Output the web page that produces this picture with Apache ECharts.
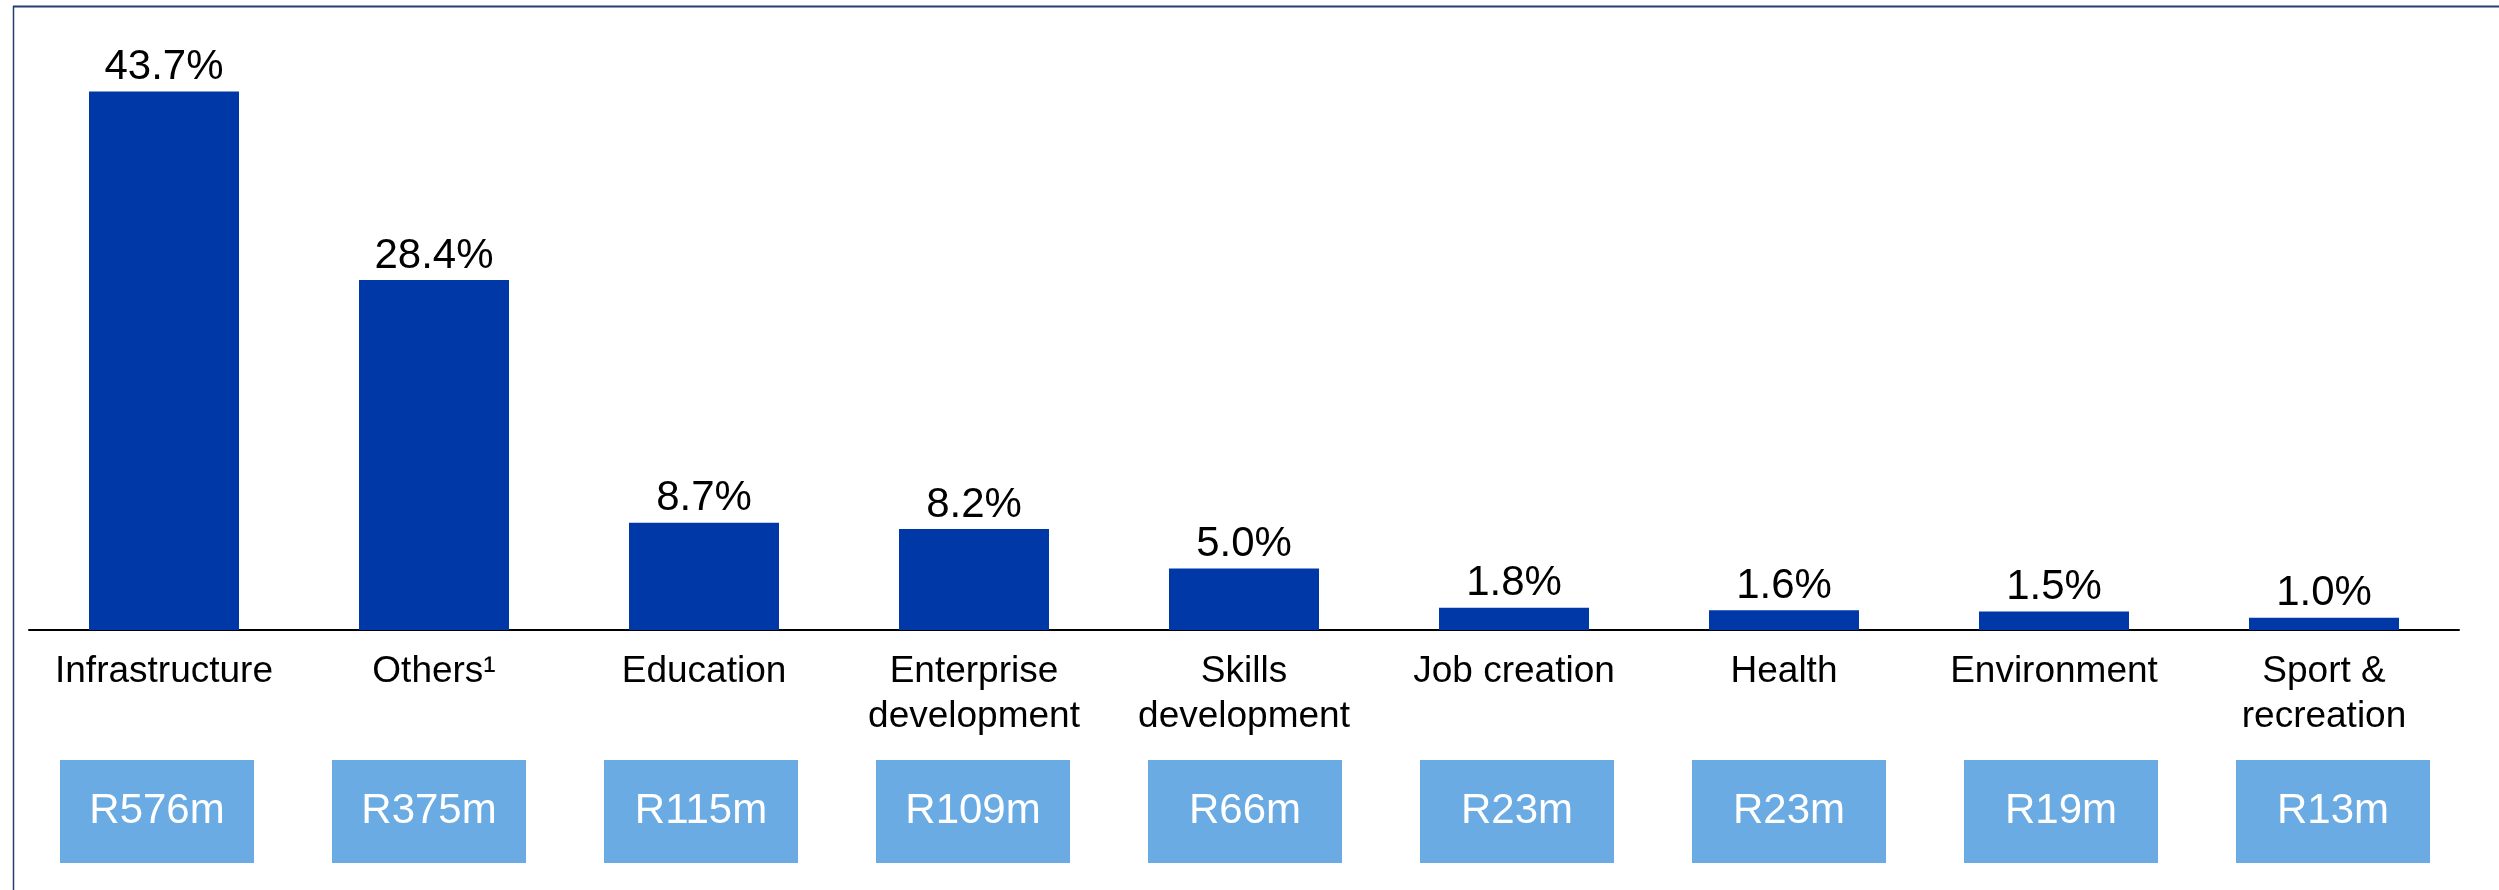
<!DOCTYPE html>
<html>
<head>
<meta charset="utf-8">
<title>Spend by focus area</title>
<script src="https://cdn.jsdelivr.net/npm/echarts@6/dist/echarts.min.js"></script>
<style>
  html, body { margin: 0; padding: 0; background: #ffffff; }
  #chart { width: 2499px; height: 890px; }
</style>
</head>
<body>
<div id="chart"></div>
<script>
// Focus areas, their share of total spend, and the rand amount behind each share
const categories = [
  'Infrastructure',
  'Others\u00B9',
  'Education',
  'Enterprise\ndevelopment',
  'Skills\ndevelopment',
  'Job creation',
  'Health',
  'Environment',
  'Sport &\nrecreation'
];
const shares = [43.7, 28.4, 8.7, 8.2, 5.0, 1.8, 1.6, 1.5, 1.0];
const amounts = ['R576m', 'R375m', 'R115m', 'R109m', 'R66m', 'R23m', 'R23m', 'R19m', 'R13m'];

const FONT = '"Liberation Sans", Arial, Helvetica, sans-serif';
const BAR_BLUE = '#0038A8';
const BOX_BLUE = '#6AABE4';
const FRAME = '#22406F';

const chart = echarts.init(document.getElementById('chart'), null, { renderer: 'canvas' });

chart.setOption({
  backgroundColor: '#ffffff',
  animation: false,
  textStyle: { fontFamily: FONT },
  grid: [
    // main bar area
    { left: 29, width: 2430, top: 14, height: 616 },
    // row of amount boxes underneath
    { left: 21, width: 2448, top: 700, height: 40 }
  ],
  xAxis: [
    {
      type: 'category',
      gridIndex: 0,
      data: categories,
      axisLine: { show: true, lineStyle: { color: '#000000', width: 2 } },
      axisTick: { show: false },
      axisLabel: {
        interval: 0,
        margin: 19,
        color: '#000000',
        fontFamily: FONT,
        fontSize: 37,
        lineHeight: 45
      }
    },
    {
      type: 'category',
      gridIndex: 1,
      data: amounts,
      axisLine: { show: false },
      axisTick: { show: false },
      axisLabel: {
        interval: 0,
        margin: 20,
        color: '#ffffff',
        fontFamily: FONT,
        fontSize: 42,
        backgroundColor: BOX_BLUE,
        width: 194,
        height: 103,
        lineHeight: 103,
        align: 'center'
      }
    }
  ],
  yAxis: [
    { type: 'value', gridIndex: 0, min: 0, max: 50, show: false },
    { type: 'value', gridIndex: 1, min: 0, max: 1, show: false }
  ],
  series: [
    {
      type: 'bar',
      xAxisIndex: 0,
      yAxisIndex: 0,
      data: shares,
      barWidth: 150,
      itemStyle: { color: BAR_BLUE },
      label: {
        show: true,
        position: 'top',
        distance: 3,
        color: '#000000',
        fontFamily: FONT,
        fontSize: 42,
        formatter: p => p.value.toFixed(1) + '%'
      }
    }
  ],
  graphic: [
    // thin frame along the top and left edges
    {
      type: 'line',
      silent: true,
      shape: { x1: 13, y1: 6.5, x2: 2499, y2: 6.5 },
      style: { stroke: FRAME, lineWidth: 2 }
    },
    {
      type: 'line',
      silent: true,
      shape: { x1: 13.5, y1: 6, x2: 13.5, y2: 890 },
      style: { stroke: FRAME, lineWidth: 1.5 }
    }
  ]
});
</script>
</body>
</html>
